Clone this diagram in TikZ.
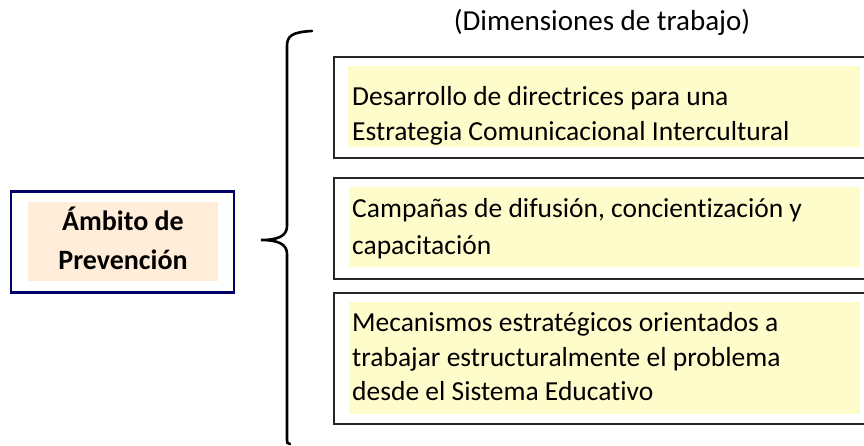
\documentclass[tikz,border=0pt]{standalone}
\usepackage{fontspec}
\setmainfont[Ligatures=NoCommon]{Carlito}
\begin{document}
\begin{tikzpicture}[x=1pt,y=-1pt,
  ln/.style={anchor=base west,inner sep=0pt,font=\fontsize{27.5}{33}\selectfont},
  dimbox/.style={draw=black!85,line width=1.8pt,anchor=north west,minimum width=540pt,inner sep=0pt},
  every node/.append style={text=black}]
\useasboundingbox (0,0) rectangle (864,445);
% left box
\node[draw=blue!40!black,line width=2.6pt,minimum width=223pt,minimum height=101pt,inner sep=0pt] (amb) at (122.5,242) {};
\fill[orange!15] (28,202) rectangle (218,281);
\node[font=\bfseries\fontsize{28}{33}\selectfont,anchor=base,inner sep=0pt] (amb1) at (123,230) {Ámbito de};
\node[font=\bfseries\fontsize{28}{33}\selectfont,anchor=base,inner sep=0pt] (amb2) at (123,269) {Prevención};
% brace
\draw[line width=2.6pt,line cap=round] (312,31) .. controls (292,32) and (287,36) .. (287,46) -- (287,226) .. controls (287,236) and (278,240) .. (261,240) coordinate (tip) .. controls (278,240) and (287,244) .. (287,254) -- (287,440) .. controls (287,443) .. (290,444);
% title
\node[font=\fontsize{29}{33}\selectfont,anchor=base,inner sep=0pt] (title) at (602,30) {(Dimensiones de trabajo)};
% box 1
\fill[yellow!20] (348,66) rectangle (860,147);
\node[dimbox,minimum height=101pt] (b1) at (333,56) {};
\node[ln] (t1a) at (352,105) {Desarrollo de directrices para una};
\node[ln] (t1b) at (352,140) {Estrategia Comunicacional Intercultural};
% box 2
\fill[yellow!20] (349,187) rectangle (860,267);
\node[dimbox,minimum height=101pt] (b2) at (333,177) {};
\node[ln] (t2a) at (352,217) {Campañas de difusión, concientización y};
\node[ln] (t2b) at (352,254) {capacitación};
% box 3
\fill[yellow!20] (349,302) rectangle (860,414);
\node[dimbox,minimum height=131pt] (b3) at (333,292) {};
\node[ln] (t3a) at (352,331) {Mecanismos estratégicos orientados a};
\node[ln] (t3b) at (352,366) {trabajar estructuralmente el problema};
\node[ln] (t3c) at (352,400) {desde el Sistema Educativo};
\end{tikzpicture}
\end{document}
